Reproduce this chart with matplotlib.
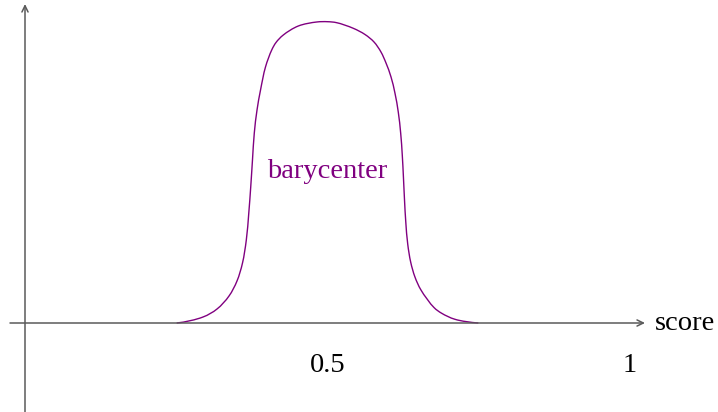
import numpy as np
import matplotlib
matplotlib.use('Agg')
import matplotlib.pyplot as plt
from matplotlib.path import Path
from matplotlib.patches import PathPatch

# Кривая barycenter: точки (score, высота относительно пика)
score = [0.2507, 0.2942, 0.3174, 0.3372, 0.3504, 0.3595, 0.3658, 0.3699,
         0.3731, 0.3760, 0.3790, 0.3835, 0.3893, 0.3975, 0.4078, 0.4149,
         0.4269, 0.4517, 0.4821, 0.5000,
         0.5152, 0.5426, 0.5620, 0.5769, 0.5884, 0.5967, 0.6050, 0.6116,
         0.6170, 0.6210, 0.6236, 0.6255, 0.6273, 0.6294, 0.6326, 0.6375,
         0.6446, 0.6545, 0.6760, 0.6888, 0.7107, 0.7493]
height = [0.0, 0.0199, 0.0465, 0.0896, 0.1394, 0.1991, 0.2755, 0.3651,
          0.4514, 0.5410, 0.6306, 0.7069, 0.7733, 0.8497, 0.9061, 0.9310,
          0.9558, 0.9857, 0.9990, 1.0,
          0.9967, 0.9781, 0.9575, 0.9326, 0.8994, 0.8629, 0.8165, 0.7620,
          0.6999, 0.6292, 0.5572, 0.4842, 0.4079, 0.3349, 0.2619, 0.2021,
          0.1524, 0.1095, 0.0514, 0.0322, 0.0123, 0.0]

# Подписи делений
tick_pos = [0.5, 1]
tick_labels = ['0.5', '1']

purple = '#800080'
axis_color = '#5a5a5a'

plt.rcParams['font.family'] = ['Liberation Serif', 'DejaVu Serif']

fig = plt.figure(figsize=(7.18, 4.12), dpi=100)
ax = fig.add_axes([0, 0, 1, 1])
ax.set_xlim(-25 / 605, 693 / 605)
ax.set_ylim(-89 / 301.3, 323 / 301.3)
ax.axis('off')

# Оси со стрелками
arrow = dict(arrowstyle='->,head_length=0.45,head_width=0.22', color=axis_color,
             lw=1.1, shrinkA=0, shrinkB=0)
ax.annotate('', xy=(620 / 605, 0), xytext=(-15 / 605, 0), arrowprops=arrow)
ax.annotate('', xy=(0, 319 / 301.3), xytext=(0, -89 / 301.3), arrowprops=arrow)

# Гладкая кривая через точки (центростремительный Catmull-Rom -> Безье),
# считаем в пикселях, чтобы масштаб по осям был одинаковый
sc = np.array([605.0, 301.3])
P = np.column_stack([score, height]) * sc
first = [2 * P[0, 0] - P[1, 0], 0.0]
last = [2 * P[-1, 0] - P[-2, 0], 0.0]
Q = np.vstack([first, P, last])
verts = [P[0] / sc]
codes = [Path.MOVETO]
for i in range(1, len(Q) - 2):
    p0, p1, p2, p3 = Q[i - 1], Q[i], Q[i + 1], Q[i + 2]
    t01 = np.linalg.norm(p1 - p0) ** 0.5
    t12 = np.linalg.norm(p2 - p1) ** 0.5
    t23 = np.linalg.norm(p3 - p2) ** 0.5
    m1 = t12 * ((p1 - p0) / t01 - (p2 - p0) / (t01 + t12) + (p2 - p1) / t12)
    m2 = t12 * ((p2 - p1) / t12 - (p3 - p1) / (t12 + t23) + (p3 - p2) / t23)
    verts += [(p1 + m1 / 3) / sc, (p2 - m2 / 3) / sc, p2 / sc]
    codes += [Path.CURVE4] * 3
ax.add_patch(PathPatch(Path(verts, codes), fill=False, edgecolor=purple, lw=1.0))

ax.text(302 / 605, 145 / 301.3, 'barycenter', color=purple, fontsize=20.5,
        ha='center', va='baseline')
for p, lab in zip(tick_pos, tick_labels):
    ax.text(p, -49 / 301.3, lab, fontsize=20.5, ha='center', va='baseline')
ax.text(630 / 605, -7 / 301.3, 'score', fontsize=20.5, ha='left', va='baseline')

plt.savefig('out.png', dpi=100)
